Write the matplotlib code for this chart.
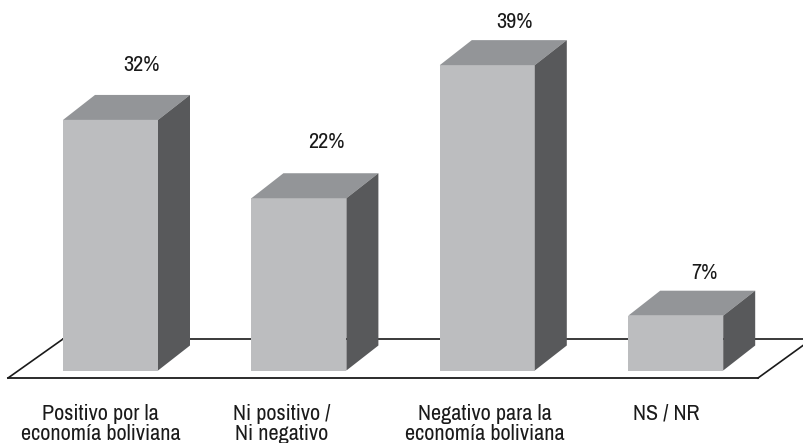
import matplotlib.pyplot as plt
from matplotlib import font_manager

categorias = ["Positivo por la\neconomía boliviana", "Ni positivo /\nNi negativo",
              "Negativo para la\neconomía boliviana", "NS / NR"]
valores = [32, 22, 39, 7]
etiquetas = ["32%", "22%", "39%", "7%"]

# escala: pixeles por categoria y por punto porcentual
PX_X = 188.4
PX_Y = 7.83
X0 = 63
Y0 = 370.5
W, H = 804, 443

ANCHO = 95 / PX_X
DX = 32 / PX_X
DY = 25 / PX_Y

# posicion de la etiqueta respecto a la barra (px)
sep_etiqueta = [54.5, 56.5, 43, 43]
desp_etiqueta = [78, 75, 75, 76]
# desplazamiento del texto de categoria respecto al centro (px)
desp_cat = [-10, -17, -2, -9]

nombres = {f.name for f in font_manager.fontManager.ttflist}
fuente = "Liberation Sans"
for n in ["Archivo Narrow", "Roboto Condensed", "PT Sans Narrow", "Liberation Sans"]:
    if n in nombres:
        fuente = n
        break
plt.rcParams['font.family'] = [fuente, 'DejaVu Sans']

fig = plt.figure(figsize=(W / 100, H / 100), dpi=100)
ax = fig.add_axes([0, 0, 1, 1])
ax.set_xlim(-X0 / PX_X, (W - X0) / PX_X)
ax.set_ylim(-(H - Y0) / PX_Y, Y0 / PX_Y)
ax.axis("off")

# piso
y_frente = -7.5 / PX_Y
y_fondo = 31.5 / PX_Y
x_izq = -55 / PX_X
x_der = 695 / PX_X
ax.plot([x_izq + 55 / PX_X, x_izq], [y_fondo, y_frente], color="#1a1a1a", lw=1.2, zorder=1)
ax.plot([x_izq, x_der], [y_frente, y_frente], color="#1a1a1a", lw=1.3, zorder=1)
ax.plot([x_der, x_der + 55 / PX_X], [y_frente, y_fondo + 0.1], color="#1a1a1a", lw=1.2, zorder=1)
ax.plot([x_izq + 55 / PX_X, (W - X0) / PX_X], [y_fondo, y_fondo], color="#3a3a3a", lw=1.4, zorder=1)

for i, v in enumerate(valores):
    ax.bar(i, v, width=ANCHO, align="edge", color="#bcbdbf", lw=0, zorder=3)
    ax.fill([i, i + ANCHO, i + ANCHO + DX, i + DX], [v, v, v + DY, v + DY], color="#939598", lw=0, zorder=3)
    ax.fill([i + ANCHO, i + ANCHO + DX, i + ANCHO + DX, i + ANCHO], [0, DY, v + DY, v], color="#58595b", lw=0, zorder=3)
    ax.text(i + desp_etiqueta[i] / PX_X, v + sep_etiqueta[i] / PX_Y, etiquetas[i],
            ha="center", va="center", fontsize=16, color="#1a1a1a")
    ax.text(i + ANCHO / 2 + desp_cat[i] / PX_X, -33 / PX_Y, categorias[i],
            ha="center", va="top", fontsize=16, color="#1a1a1a", linespacing=1.06)

fig.savefig("out.png", dpi=100)
